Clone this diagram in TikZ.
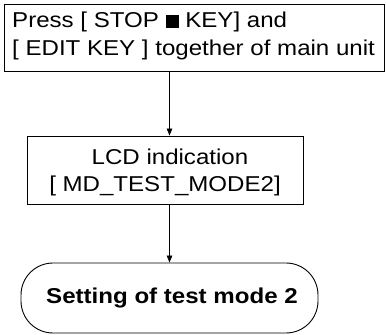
\documentclass[tikz,border=0pt]{standalone}
\usepackage{fontspec}
\setmainfont{Liberation Sans}[FakeStretch=1.12]
\usetikzlibrary{arrows.meta,calc}
\tikzset{
  box/.style={draw, line width=0.9pt, rectangle, inner sep=0pt},
  term/.style={draw, line width=0.9pt, rectangle, rounded corners=32pt, inner sep=0pt},
  arr/.style={line width=0.8pt, -{Triangle[length=7pt,width=5.5pt]}},
  txt/.style={font=\fontsize{21.5}{27.5}\selectfont, inner sep=0pt}
}
\begin{document}
\begin{tikzpicture}[x=1pt,y=1pt]
\useasboundingbox (0,0) rectangle (386,335);
\node[box, minimum width=380pt, minimum height=67pt] (b1) at (194,297.5) {};
\node[txt, anchor=base west] (t1a) at (12,307) {Press [ STOP \rule{13pt}{13pt} KEY] and};
\node[txt, anchor=base west] (t1b) at (12,279) {[ EDIT KEY ] together of main unit};
\node[box, minimum width=276pt, minimum height=68pt] (b2) at (165,165) {};
\node[txt, anchor=base] (t2a) at (170,170) {LCD indication};
\node[txt, anchor=base] (t2b) at (165,143) {[ MD\_TEST\_MODE2]};
\node[term, minimum width=297pt, minimum height=70pt] (t) at (169.5,37) {};
\node[txt, font=\fontsize{21.5}{26}\selectfont\bfseries, anchor=base] (t3) at (172,31) {Setting of test mode 2};
\draw[arr] (t.north |- b1.south) -- (t.north |- b2.north);
\draw[arr] (t.north |- b2.south) -- (t.north);
\end{tikzpicture}
\end{document}
